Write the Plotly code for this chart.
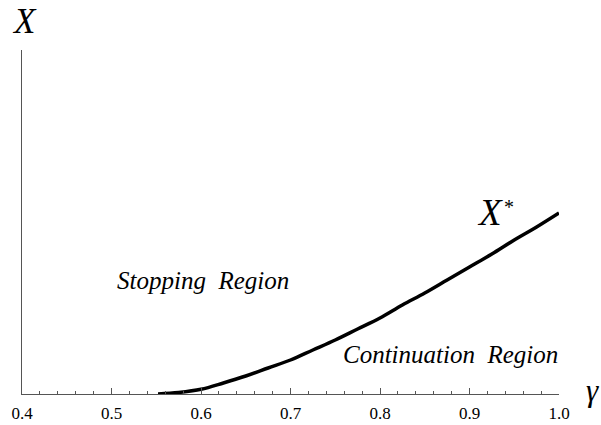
import plotly.graph_objects as go

gamma = [0.552, 0.575, 0.60, 0.625, 0.65, 0.675, 0.70, 0.725, 0.75, 0.775, 0.80, 0.825, 0.85, 0.875, 0.90, 0.925, 0.95, 0.975, 1.00]
xstar = [0.0, 0.015, 0.047, 0.11, 0.18, 0.26, 0.34, 0.44, 0.54, 0.65, 0.76, 0.89, 1.01, 1.14, 1.27, 1.40, 1.54, 1.67, 1.81]
tick_vals = [0.4, 0.5, 0.6, 0.7, 0.8, 0.9, 1.0]
tick_text = ["0.4", "0.5", "0.6", "0.7", "0.8", "0.9", "1.0"]

serif = "Liberation Serif"
axcol = "#555555"

fig = go.Figure()
fig.add_trace(go.Scatter(x=gamma, y=xstar, mode="lines", line=dict(color="black", width=3.5, shape="spline", smoothing=1.0),
                         hoverinfo="skip", showlegend=False))

fig.update_layout(
    width=601, height=425,
    margin=dict(l=22, r=42, t=50, b=31),
    paper_bgcolor="white", plot_bgcolor="white",
    font=dict(family=serif, color="black"),
    xaxis=dict(range=[0.4, 1.0], tickvals=tick_vals, ticktext=tick_text, showgrid=False, zeroline=False,
               automargin=False, ticklabelstandoff=4,
               showline=True, linecolor=axcol, linewidth=1, ticks="inside", ticklen=6, tickcolor=axcol, tickwidth=1,
               minor=dict(dtick=0.02, tick0=0.4, ticks="inside", ticklen=3, tickcolor=axcol, tickwidth=1, showgrid=False),
               tickfont=dict(family=serif, size=17, color="black")),
    yaxis=dict(range=[0, 3.44], showgrid=False, zeroline=False, showticklabels=False, ticks="",
               automargin=False, showline=True, linecolor=axcol, linewidth=1),
    annotations=[
        dict(xref="paper", yref="paper", x=0, y=1, xshift=2, yshift=29, text="<i>X</i>", showarrow=False,
             font=dict(family=serif, size=35, color="black"), xanchor="center", yanchor="middle"),
        dict(xref="paper", yref="paper", x=1, y=0, xshift=33, yshift=4, text="<i>γ</i>", showarrow=False,
             font=dict(family=serif, size=31, color="black"), xanchor="center", yanchor="middle"),
        dict(x=0.923, y=1.82, text="<i>X</i>", showarrow=False,
             font=dict(family=serif, size=37, color="black"), xanchor="center", yanchor="middle"),
        dict(x=0.944, y=1.87, text="*", showarrow=False,
             font=dict(family=serif, size=20, color="black"), xanchor="center", yanchor="middle"),
        dict(x=0.602, y=1.14, text="<i>Stopping\u00a0\u00a0Region</i>", showarrow=False,
             font=dict(family=serif, size=25, color="black"), xanchor="center", yanchor="middle"),
        dict(x=0.879, y=0.40, text="<i>Continuation\u00a0\u00a0Region</i>", showarrow=False,
             font=dict(family=serif, size=25, color="black"), xanchor="center", yanchor="middle"),
    ],
)

fig.write_html("out.html", config={"displayModeBar": False}, post_script="document.body.style.margin='0';")
